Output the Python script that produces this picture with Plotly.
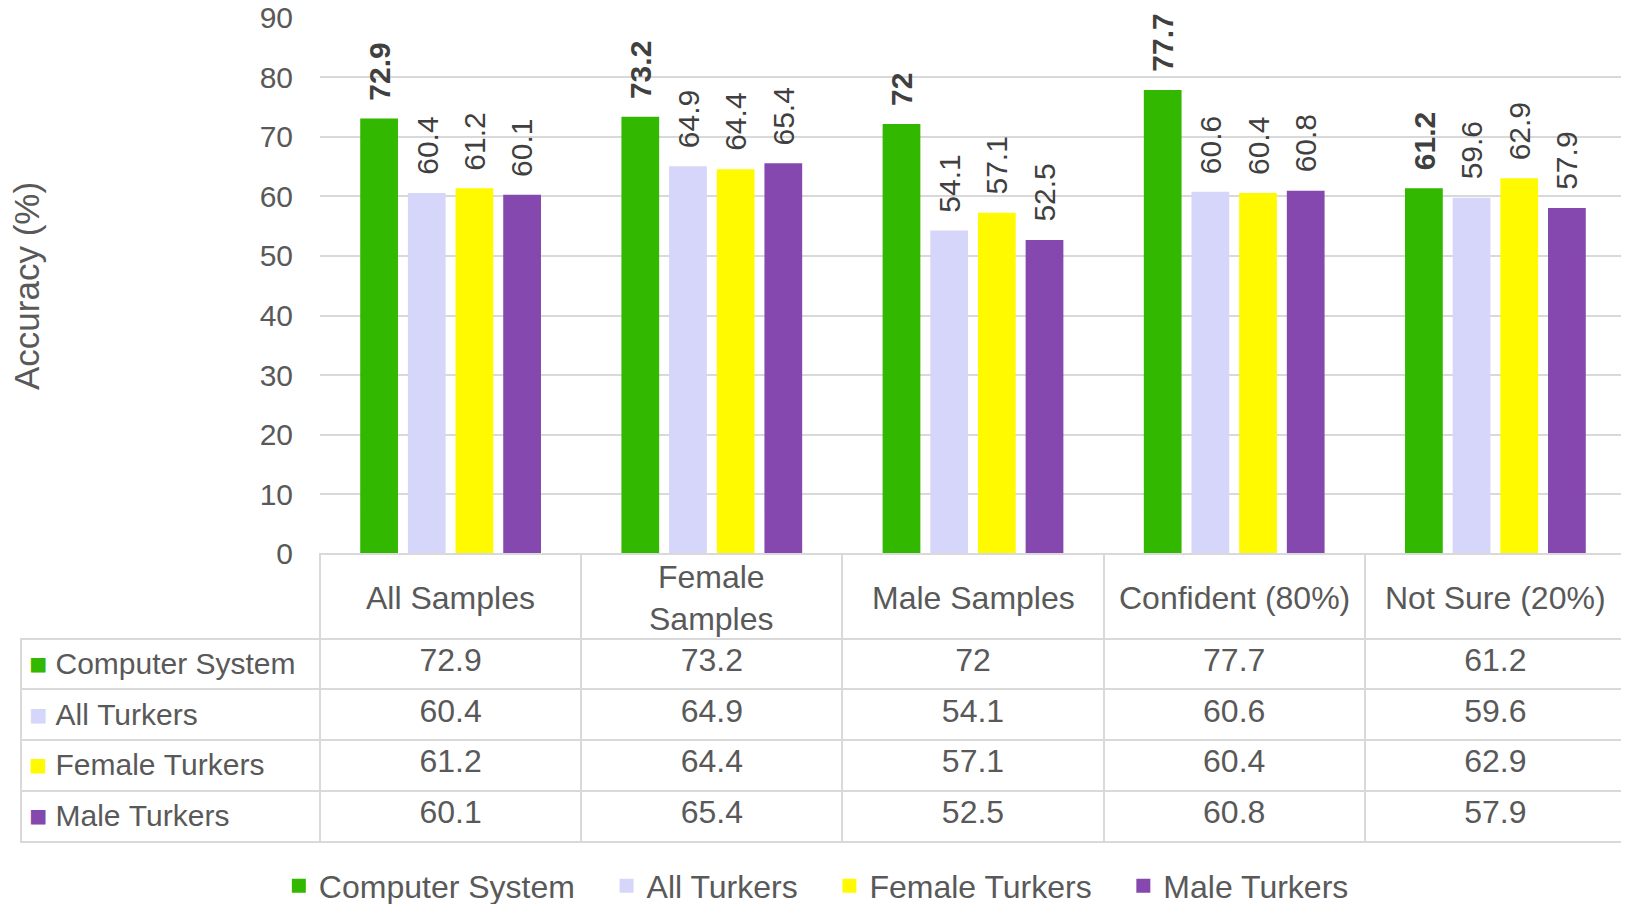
import plotly.graph_objects as go

# ---------------- data ----------------
categories = ["All Samples", "Female Samples", "Male Samples", "Confident (80%)", "Not Sure (20%)"]
header_labels = ["All Samples", "Female<br>Samples", "Male Samples", "Confident (80%)", "Not Sure (20%)"]
series_names = ["Computer System", "All Turkers", "Female Turkers", "Male Turkers"]
computer_system = [72.9, 73.2, 72, 77.7, 61.2]
all_turkers = [60.4, 64.9, 54.1, 60.6, 59.6]
female_turkers = [61.2, 64.4, 57.1, 60.4, 62.9]
male_turkers = [60.1, 65.4, 52.5, 60.8, 57.9]
y_ticks = [0, 10, 20, 30, 40, 50, 60, 70, 80, 90]

series_values = [computer_system, all_turkers, female_turkers, male_turkers]
colors = ["#33B800", "#D6D6FA", "#FFFA00", "#8548AE"]

# ---------------- layout constants (figure pixels) ----------------
W, H = 1629, 904
TXT = "#595959"
LBL = "#404040"
GRID = "#D9D9D9"
FONT = "Liberation Sans, Arial, sans-serif"
BARGAP = 0.27
BARGROUPGAP = 0.25

plot_left, plot_right = 312, 1618
plot_top, plot_bottom = 9.7, 545.8
table_left = 13
NBSP = "\u00a0"
legend_pad = 3

fig = go.Figure()

for name, vals, col in zip(series_names, series_values, colors):
    fig.add_trace(go.Bar(
        name=name + NBSP * legend_pad, x=categories, y=vals,
        marker=dict(color=col, line=dict(width=2, color=col)),
    ))

# rotated value labels above bars
n = len(series_names)
slot = (1 - BARGAP) / n
for i, (name, vals) in enumerate(zip(series_names, series_values)):
    for j, v in enumerate(vals):
        txt = f"<b>{v}</b>" if i == 0 else f"{v}"
        fig.add_annotation(
            x=j + (i - (n - 1) / 2) * slot, y=v, xref="x", yref="y",
            text=txt, textangle=-90, showarrow=False,
            yanchor="bottom", xanchor="center", yshift=17,
            font=dict(size=30, color=LBL, family=FONT),
        )

# table below the chart
row_labels = [
    f'<a href="#"style="color:{c}">■</a>{NBSP}' + nm.replace(" ", NBSP)
    for nm, c in zip(series_names, colors)
]
columns = [row_labels] + [[vals[j] for vals in series_values] for j in range(len(categories))]
fig.add_trace(go.Table(
    domain=dict(x=[table_left / W, plot_right / W], y=[0, 1 - plot_bottom / H]),
    columnwidth=[plot_left - table_left] + [(plot_right - plot_left) / 5] * 5,
    header=dict(
        values=[""] * 6, height=85,
        line=dict(color=GRID, width=[0, 2, 2, 2, 2, 2]),
        fill=dict(color=["rgba(0,0,0,0)"] + ["white"] * 5),
    ),
    cells=dict(
        values=columns, height=50.7,
        align=["left"] + ["center"] * 5,
        font=dict(size=[30, 32, 32, 32, 32, 32], color=TXT, family=FONT),
        line=dict(color=GRID, width=2),
        fill=dict(color="white"),
    ),
))

# header labels placed on the category axis
for cat, lab in zip(categories, header_labels):
    fig.add_annotation(
        x=cat, xref="x", y=1 - 590 / H, yref="paper",
        text=lab, showarrow=False, yanchor="middle", xanchor="center",
        font=dict(size=32, color=TXT, family=FONT),
    )

# y axis title
fig.add_annotation(
    x=18 / W, y=1 - 278 / H, xref="paper", yref="paper",
    text="Accuracy (%)", textangle=-90, showarrow=False,
    xanchor="center", yanchor="middle",
    font=dict(size=35, color=TXT, family=FONT),
)

fig.update_layout(
    width=W, height=H,
    margin=dict(l=0, r=0, t=0, b=0, autoexpand=False),
    paper_bgcolor="white", plot_bgcolor="white",
    barmode="group", bargap=BARGAP, bargroupgap=BARGROUPGAP,
    font=dict(family=FONT, color=TXT),
    showlegend=True,
    legend=dict(
        orientation="h", x=0.5045, xanchor="center", y=1 - 878 / H, yanchor="middle",
        font=dict(size=32, color=TXT, family=FONT),
        traceorder="normal", bgcolor="rgba(0,0,0,0)",
    ),
    xaxis=dict(
        domain=[plot_left / W, plot_right / W], showticklabels=False, showgrid=False,
        zeroline=False, showline=False, ticks="", range=[-0.5, 4.5], automargin=False,
    ),
    yaxis=dict(
        domain=[1 - plot_bottom / H, 1 - plot_top / H], range=[0, 90.0001],
        tickvals=y_ticks, showgrid=True, gridcolor=GRID, gridwidth=1.5,
        zeroline=False, showline=False, ticks="", ticklabelstandoff=26,
        ticklabeloverflow="allow",
        tickfont=dict(size=30, color=TXT, family=FONT), automargin=False,
    ),
)

fig.write_html("out.html")
